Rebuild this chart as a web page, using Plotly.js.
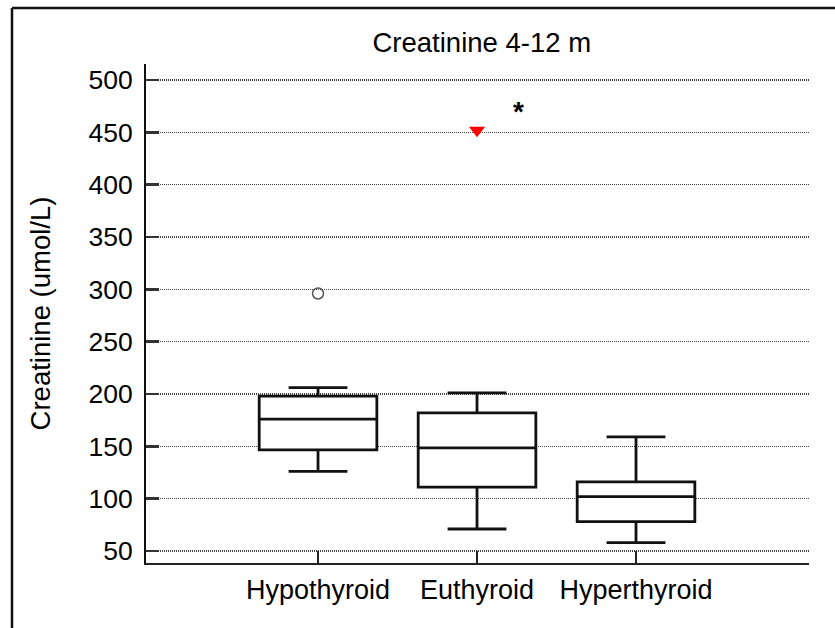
<!DOCTYPE html>
<html>
<head>
<meta charset="utf-8">
<script src="https://cdn.plot.ly/plotly-3.0.1.min.js"></script>
<style>
html,body{margin:0;padding:0;background:#fff;}
#chart{width:835px;height:628px;}
</style>
</head>
<body>
<div id="chart"></div>
<script>
// Data
const categories = ["Hypothyroid", "Euthyroid", "Hyperthyroid"];
const catPos = [0, 1, 2];
const lowerWhisker = [126, 71, 58];
const q1 = [146.5, 111, 78];
const median = [176, 148.5, 102];
const q3 = [198, 182, 116];
const upperWhisker = [206, 201, 159];

// Outside values
const outlierX = [0];
const outlierY = [296];
const farOutX = [1];
const farOutY = [452];
const starX = [1.26];
const starY = [468];
const yTicks = [50, 100, 150, 200, 250, 300, 350, 400, 450, 500];

const FONT = "Liberation Sans, Arial, sans-serif";

const traces = [
  {
    type: "box",
    x: catPos,
    q1: q1,
    median: median,
    q3: q3,
    lowerfence: lowerWhisker,
    upperfence: upperWhisker,
    width: 0.74,
    whiskerwidth: 0.5,
    fillcolor: "rgba(255,255,255,1)",
    line: {color: "#111", width: 2.8},
    boxpoints: false,
    hoverinfo: "skip",
    showlegend: false
  },
  {
    type: "scatter",
    mode: "markers",
    x: outlierX,
    y: outlierY,
    marker: {symbol: "circle-open", size: 11, color: "#555", line: {width: 1.5, color: "#555"}},
    showlegend: false
  },
  {
    type: "scatter",
    mode: "markers",
    x: farOutX,
    y: farOutY,
    marker: {symbol: "triangle-down", size: 14, color: "#ff0000"},
    showlegend: false
  },
  {
    type: "scatter",
    mode: "text",
    x: starX,
    y: starY,
    text: ["<b>*</b>"],
    textfont: {family: FONT, size: 28, color: "#000"},
    textposition: "middle center",
    showlegend: false
  }
];

const layout = {
  width: 835,
  height: 628,
  margin: {l: 146, r: 26, t: 64, b: 65},
  paper_bgcolor: "#fff",
  plot_bgcolor: "#fff",
  font: {family: FONT, color: "#000"},
  title: {
    text: "Creatinine 4-12 m",
    font: {family: FONT, size: 27.5, color: "#000"},
    x: 0.577, xanchor: "center",
    y: 0.933, yanchor: "middle"
  },
  xaxis: {
    range: [-1.082, 3.088],
    tickmode: "array",
    tickvals: catPos,
    ticktext: categories,
    ticks: "inside",
    ticklen: 12,
    tickwidth: 1.5,
    tickcolor: "#222",
    showgrid: false,
    zeroline: false,
    showline: true,
    linecolor: "#222",
    linewidth: 2,
    tickfont: {family: FONT, size: 27, color: "#000"},
    ticklabelstandoff: 2,
    fixedrange: true
  },
  yaxis: {
    range: [38.5, 515.3],
    tickmode: "array",
    tickvals: yTicks,
    ticks: "inside",
    ticklen: 13,
    tickwidth: 2.5,
    tickcolor: "#333",
    showgrid: true,
    gridcolor: "#444",
    griddash: "1px,1px",
    gridwidth: 1.2,
    zeroline: false,
    showline: true,
    linecolor: "#111",
    linewidth: 2,
    tickfont: {family: FONT, size: 26.5, color: "#000"},
    ticklabelstandoff: 6,
    title: {text: "Creatinine (umol/L)", font: {family: FONT, size: 27.5, color: "#000"}, standoff: 30},
    fixedrange: true
  },
  shapes: [
    {type: "line", xref: "paper", yref: "paper",
     x0: (12 - 146) / 663, x1: (12 - 146) / 663, y0: 1 + 56 / 499, y1: -65 / 499 - 0.01,
     line: {color: "#111", width: 2.5}},
    {type: "line", xref: "paper", yref: "paper",
     x0: (12 - 146) / 663, x1: (835 - 146) / 663 + 0.01, y0: 1 + 56 / 499, y1: 1 + 56 / 499,
     line: {color: "#111", width: 2.5}}
  ]
};

Plotly.newPlot("chart", traces, layout, {displayModeBar: false, staticPlot: true});
</script>
</body>
</html>
